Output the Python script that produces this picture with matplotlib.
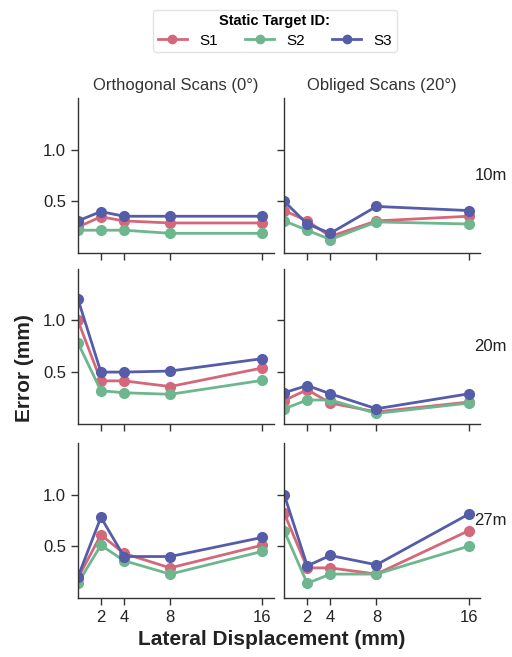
import numpy as np
import matplotlib
matplotlib.use("Agg")
import matplotlib.pyplot as plt
from matplotlib.lines import Line2D

plt.rcParams['font.family'] = ['Liberation Sans', 'DejaVu Sans']

# lateral displacement (mm)
displacement = [0, 2, 4, 8, 16]
targets = ['S1', 'S2', 'S3']
distances = ['10m', '20m', '27m']
scan_titles = ['Orthogonal Scans (0°)', 'Obliged Scans (20°)']

# error (mm), orthogonal scans, per distance: S1, S2, S3
ortho_10 = [[0.25, 0.35, 0.31, 0.29, 0.29],
            [0.22, 0.22, 0.22, 0.19, 0.19],
            [0.31, 0.40, 0.355, 0.355, 0.355]]
ortho_20 = [[1.00, 0.415, 0.415, 0.36, 0.54],
            [0.785, 0.32, 0.30, 0.285, 0.42],
            [1.21, 0.50, 0.50, 0.51, 0.63]]
ortho_27 = [[0.19, 0.61, 0.43, 0.29, 0.51],
            [0.14, 0.51, 0.36, 0.23, 0.45],
            [0.20, 0.78, 0.40, 0.40, 0.585]]

# error (mm), obliged scans
obl_10 = [[0.41, 0.31, 0.16, 0.31, 0.355],
          [0.31, 0.22, 0.13, 0.30, 0.28],
          [0.50, 0.28, 0.19, 0.45, 0.41]]
obl_20 = [[0.225, 0.33, 0.20, 0.115, 0.21],
          [0.145, 0.23, 0.23, 0.10, 0.20],
          [0.30, 0.37, 0.29, 0.145, 0.29]]
obl_27 = [[0.82, 0.29, 0.29, 0.23, 0.65],
          [0.65, 0.14, 0.23, 0.23, 0.50],
          [1.00, 0.31, 0.41, 0.32, 0.81]]

colors = ['#d4687a', '#6db68e', '#555ca8']

grid = [[ortho_10, obl_10], [ortho_20, obl_20], [ortho_27, obl_27]]

fig = plt.figure(figsize=(5.12, 6.57), dpi=100)

lefts = [0.152, 0.555]
bottoms = [0.615, 0.355, 0.090]
w, h = 0.383, 0.236

for r in range(3):
    for c in range(2):
        ax = fig.add_axes([lefts[c], bottoms[r], w, h])
        for s, vals in enumerate(grid[r][c]):
            ax.plot(displacement, vals, color=colors[s], lw=2, marker='o',
                    markersize=7, label=targets[s])
        ax.set_xlim(0, 17)
        ax.set_ylim(0, 1.5)
        ax.set_xticks([2, 4, 8, 16])
        ax.set_yticks([0.5, 1.0])
        for side in ['top', 'right']:
            ax.spines[side].set_visible(False)
        for side in ['left', 'bottom']:
            ax.spines[side].set_color('#333333')
            ax.spines[side].set_linewidth(1.0)
        ax.tick_params(colors='#333333', labelcolor='#222222', labelsize=12,
                       length=5, width=1)
        if c == 1:
            ax.tick_params(labelleft=False)
            ax.text(0.97, 0.5, distances[r], transform=ax.transAxes,
                    fontsize=12, va='center', ha='left', color='#222222')
        if r < 2:
            ax.tick_params(labelbottom=False)
        if r == 0:
            ax.set_title(scan_titles[c], fontsize=12, color='#333333', pad=6)

fig.text(0.047, 0.44, 'Error (mm)', rotation=90, fontsize=15,
         fontweight='bold', ha='center', va='center', color='#222222')
fig.text(0.53, 0.026, 'Lateral Displacement (mm)', fontsize=15,
         fontweight='bold', ha='center', va='center', color='#222222')

handles = [Line2D([], [], color=colors[i], lw=2, marker='o', markersize=6)
           for i in range(3)]
leg = fig.legend(handles, targets, loc='upper center', ncol=3,
                 bbox_to_anchor=(0.537, 0.997), fontsize=11,
                 title='Static Target ID:', frameon=True,
                 columnspacing=1.8, handlelength=1.9, handletextpad=0.8,
                 borderpad=0.3, labelspacing=0.35)
leg.get_title().set_fontweight('bold')
leg.get_title().set_fontsize(10.5)
leg.get_frame().set_edgecolor('#dddddd')

fig.savefig('out.png', dpi=100)
